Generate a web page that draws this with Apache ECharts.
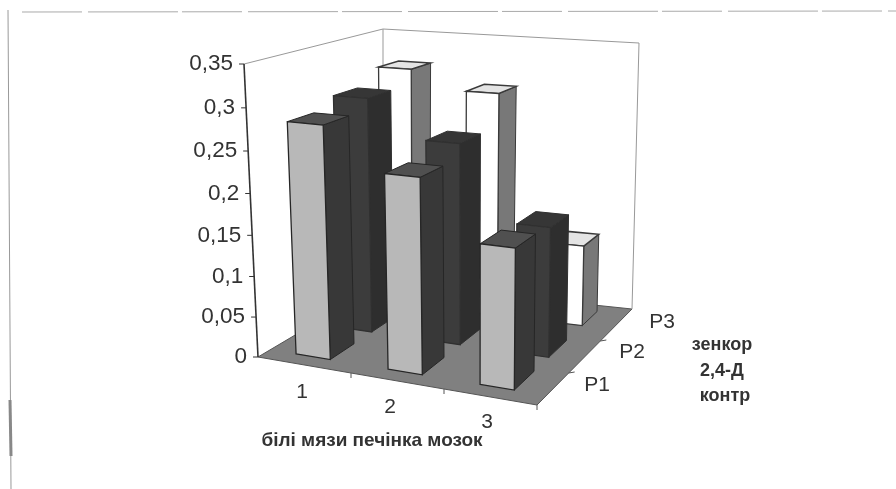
<!DOCTYPE html>
<html><head><meta charset="utf-8">
<style>html,body{margin:0;padding:0;background:#fff}#c{width:896px;height:489px;filter:blur(0.6px)}</style>
<script src="https://cdn.jsdelivr.net/npm/echarts@6/dist/echarts.min.js"></script>
</head><body><div id="c"></div>
<script>
const categories = ['білі мязи', 'печінка', 'мозок'];
const categoryTicks = ['1', '2', '3'];
const rowTicks = ['P1', 'P2', 'P3'];
const rowNames = ['контр', '2,4-Д', 'зенкор'];
const valueTicks = [0, 0.05, 0.1, 0.15, 0.2, 0.25, 0.3, 0.35];
const kontr = [0.282, 0.233, 0.165];
const d24 = [0.295, 0.25, 0.16];
const zenkor = [0.313, 0.29, 0.105];

const chart = echarts.init(document.getElementById('c'), null, {renderer: 'canvas', width: 896, height: 489});

// floor and ceiling corners of the 3D box: [cat, depth]
const B = {a: [258, 357], b: [537, 405], c: [383, 283], d: [632, 309]};
const T = {a: [244, 64], b: [541, 87], c: [383, 29], d: [639, 43]};
const K = 1.056;
function bil(q, u, v) {
  const l = [q.a[0] + (q.c[0] - q.a[0]) * v, q.a[1] + (q.c[1] - q.a[1]) * v];
  const r = [q.b[0] + (q.d[0] - q.b[0]) * v, q.b[1] + (q.d[1] - q.b[1]) * v];
  return [l[0] + (r[0] - l[0]) * u, l[1] + (r[1] - l[1]) * u];
}
function proj(u, v, t) {
  const w = t / (K - (K - 1) * t);
  const p = bil(B, u, v), q = bil(T, u, v);
  return [p[0] + (q[0] - p[0]) * w, p[1] + (q[1] - p[1]) * w];
}
function frac(api, val) {
  const z = api.coord([0, 0])[1], m = api.coord([0, 0.35])[1];
  return (z - api.coord([0, val])[1]) / (z - m);
}
const rowV = [[0.10, 0.30], [0.45, 0.63], [0.79, 0.94]];
const looks = [
  {front: '#b8b8b8', side: '#383838', top: '#505050', edge: '#262626'},
  {front: '#3c3c3c', side: '#2e2e2e', top: '#363636', edge: '#303030'},
  {front: '#ffffff', side: '#787878', top: '#e4e4e4', edge: '#3a3a3a'}
];
function poly(pts, fill, edge, lw) {
  return {type: 'polygon', shape: {points: pts}, style: {fill, stroke: edge, lineWidth: lw || 1}};
}
function line(p, q, c, lw) {
  return {type: 'line', shape: {x1: p[0], y1: p[1], x2: q[0], y2: q[1]}, style: {stroke: c, lineWidth: lw || 1}};
}
function txt(s, x, y, size, weight, align) {
  return {type: 'text', style: {text: s, x, y, fill: '#333', fontFamily: 'Liberation Sans', fontSize: size, fontWeight: weight || 'normal', align: align || 'center', verticalAlign: 'middle'}};
}
function barItem(row) {
  return function (params, api) {
    const cs = params.coordSys;
    const uc = (api.coord([api.value(0), 0])[0] - cs.x) / cs.width - 0.012;
    const u0 = uc - 0.062, u1 = uc + 0.062;
    const [v0, v1] = rowV[row];
    const t = frac(api, api.value(1));
    const L = looks[row];
    return {type: 'group', children: [
      poly([proj(u1, v0, 0), proj(u1, v1, 0), proj(u1, v1, t), proj(u1, v0, t)], L.side, L.edge),
      poly([proj(u0, v0, t), proj(u1, v0, t), proj(u1, v1, t), proj(u0, v1, t)], L.top, L.edge, row === 2 ? 1.5 : 1),
      poly([proj(u0, v0, 0), proj(u1, v0, 0), proj(u1, v0, t), proj(u0, v0, t)], L.front, L.edge, 1.3)
    ]};
  };
}
function frameItem(params, api) {
  const kids = [];
  kids.push(poly([B.a, B.b, B.d, B.c], '#808080', '#555'));
  kids.push(line(T.a, T.c, '#999'), line(T.c, T.d, '#999'), line(T.c, B.c, '#999'), line(T.d, B.d, '#999'));
  kids.push(line(B.a, T.a, '#333', 1.6));
  valueTicks.forEach(v => {
    const t = frac(api, v), p = proj(0, 0, t);
    kids.push(line([p[0] - 5, p[1]], p, '#333'));
    kids.push(txt(String(v).replace('.', ','), p[0] - 11, p[1], 22.5, 'normal', 'right'));
  });
  [1 / 3, 2 / 3, 1].forEach(u => { const p = proj(u, 0, 0); kids.push(line(p, [p[0], p[1] + 5], '#555')); });
  [1 / 3, 2 / 3].forEach(v => { const p = proj(1, v, 0); kids.push(line(p, [p[0] + 6, p[1] - 1], '#555')); });
  const catPos = [[302, 392], [390, 407], [487, 422]];
  categoryTicks.forEach((s, i) => kids.push(txt(s, catPos[i][0], catPos[i][1], 21)));
  const rowPos = [[597, 385], [632, 352], [662, 322]];
  rowTicks.forEach((s, i) => kids.push(txt(s, rowPos[i][0], rowPos[i][1], 21)));
  const namePos = [[725, 396], [722, 371], [722, 345]];
  rowNames.forEach((s, i) => kids.push(txt(s, namePos[i][0], namePos[i][1], 18, 'bold')));
  kids.push(txt(categories.join(' '), 372, 441, 19, 'bold'));
  return {type: 'group', children: kids};
}
const rows = [kontr, d24, zenkor];
const series = [{type: 'custom', name: 'frame', silent: true, renderItem: frameItem, data: [[0, 0]], encode: {x: 0, y: 1}, z: 1, clip: false}];
[2, 1, 0].forEach((r, k) => series.push({
  type: 'custom', name: rowNames[r], silent: true, clip: false, z: 2 + k,
  renderItem: barItem(r), encode: {x: 0, y: 1},
  data: rows[r].map((v, i) => [i, v])
}));
chart.setOption({
  animation: false,
  backgroundColor: '#fff',
  grid: {left: 244, top: 64, width: 395, height: 293},
  xAxis: {type: 'category', data: categoryTicks, show: false},
  yAxis: {type: 'value', min: 0, max: 0.35, interval: 0.05, show: false},
  graphic: [
    {type: 'line', shape: {x1: 8, y1: 10, x2: 11, y2: 489}, style: {stroke: '#999', lineWidth: 1}},
    {type: 'line', shape: {x1: 10, y1: 400, x2: 11, y2: 456}, style: {stroke: '#888', lineWidth: 3}},
    {type: 'line', shape: {x1: 22, y1: 12, x2: 896, y2: 11}, style: {stroke: '#aaa', lineWidth: 1, lineDash: [60, 6, 90, 4]}}
  ],
  series
});
</script></body></html>
